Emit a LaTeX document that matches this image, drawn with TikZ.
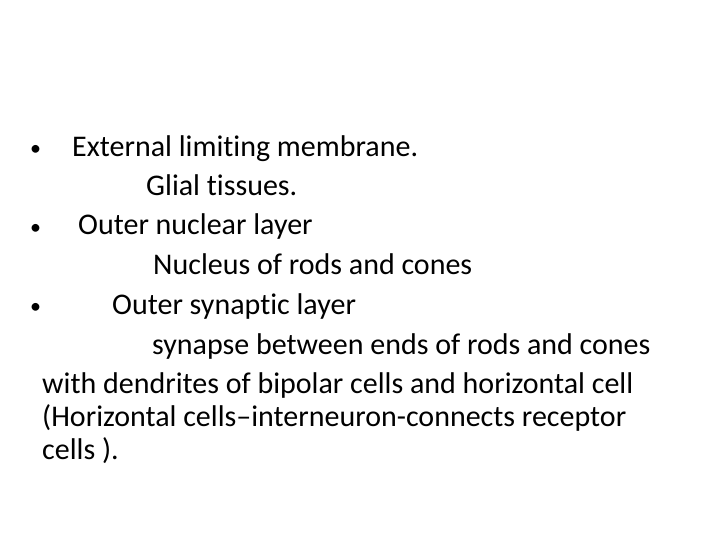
\documentclass[tikz,border=0pt]{standalone}
\usepackage{fontspec}
\setmainfont[RawFeature={-liga;-clig}]{Carlito}
\begin{document}
\begin{tikzpicture}[x=1pt,y=-1pt,txt/.style={anchor=base west,inner sep=0pt,font=\fontsize{30}{34}\selectfont},bul/.style={anchor=base west,inner sep=0pt,font=\fontsize{22}{26}\selectfont}]
\useasboundingbox (0,0) rectangle (720,540);
\node[bul] (b1) at (30,156) {•};
\node[txt] (l1) at (72,157) {External limiting membrane.};
\node[txt] (l2) at (146,196) {Glial tissues.};
\node[bul] (b2) at (30,234) {•};
\node[txt] (l3) at (78,235) {Outer nuclear layer};
\node[bul] (b3) at (30,313) {•};
\node[txt] (l4) at (153,274) {Nucleus of rods and cones};
\node[txt] (l5) at (112,314) {Outer synaptic layer};
\node[txt] (l6) at (152,354) {synapse between ends of rods and cones};
\node[txt] (l7) at (42,393) {with dendrites of bipolar cells and horizontal cell};
\node[txt] (l8) at (42,426) {(Horizontal cells–interneuron-connects receptor};
\node[txt] (l9) at (42,459) {cells ).};
\end{tikzpicture}
\end{document}
